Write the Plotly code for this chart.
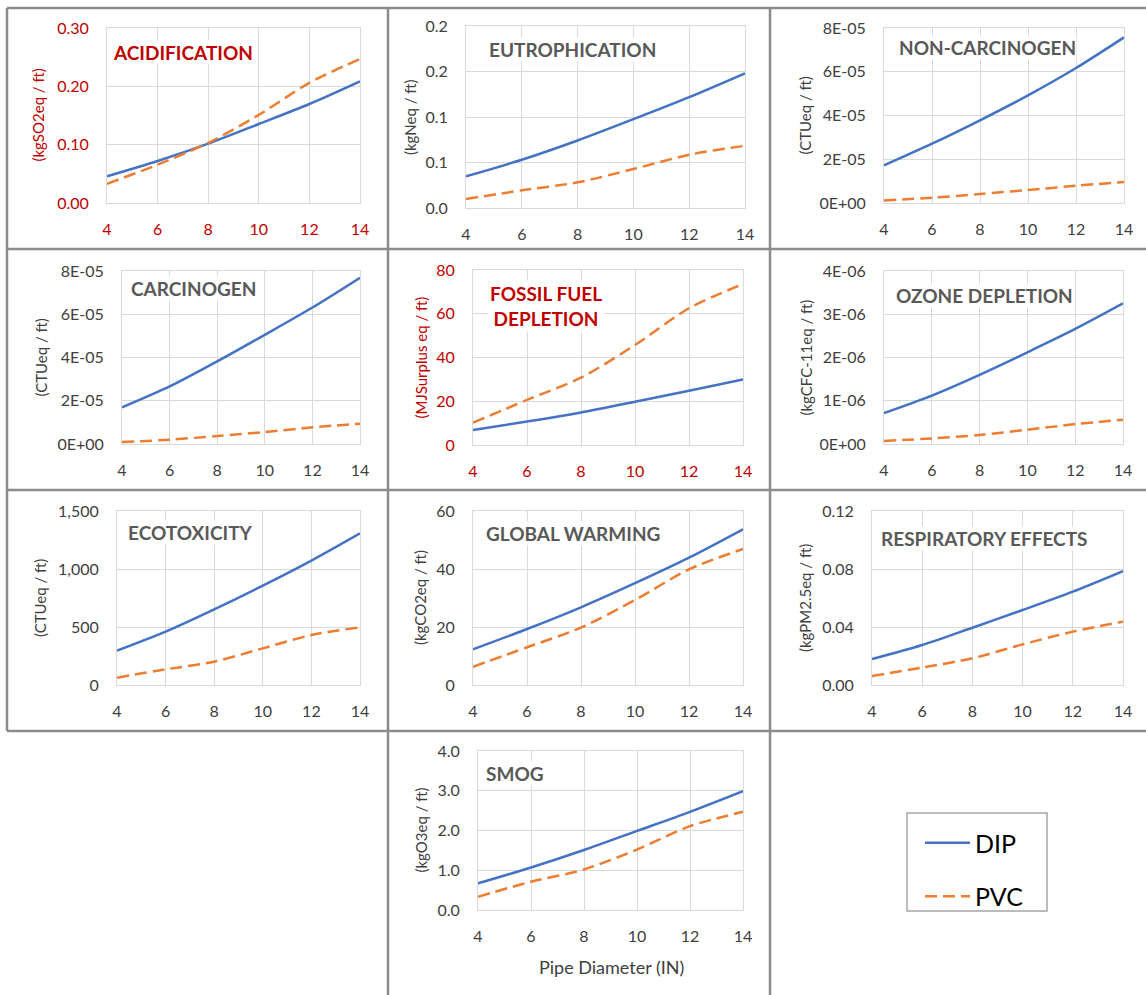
import plotly.graph_objects as go

# ---------------- data ----------------
diameters = [4, 6, 8, 10, 12, 14]
x_ticks = [4, 6, 8, 10, 12, 14]
x_ticktext = ["4", "6", "8", "10", "12", "14"]

acid_dip = [0.0457, 0.072, 0.1017, 0.1354, 0.1697, 0.2086]
acid_pvc = [0.033, 0.0657, 0.103, 0.151, 0.206, 0.247]
acid_ticks = [0, 0.1, 0.2, 0.3]
acid_ticktext = ["0.00", "0.10", "0.20", "0.30"]

eutro_dip = [0.0347, 0.053, 0.0742, 0.0976, 0.1218, 0.148]
eutro_pvc = [0.0099, 0.0194, 0.0282, 0.0428, 0.0585, 0.0684]
eutro_ticks = [0, 0.05, 0.1, 0.15, 0.2]
eutro_ticktext = ["0.0", "0.1", "0.1", "0.2", "0.2"]

noncarc_dip = [1.72e-5, 2.71e-5, 3.78e-5, 4.92e-5, 6.17e-5, 7.57e-5]
noncarc_pvc = [1.2e-6, 2.4e-6, 4.1e-6, 5.9e-6, 7.9e-6, 9.6e-6]
noncarc_ticks = [0, 2e-5, 4e-5, 6e-5, 8e-5]
noncarc_ticktext = ["0E+00", "2E-05", "4E-05", "6E-05", "8E-05"]

carc_dip = [1.69e-5, 2.66e-5, 3.82e-5, 5.05e-5, 6.31e-5, 7.69e-5]
carc_pvc = [0.9e-6, 2.0e-6, 3.7e-6, 5.5e-6, 7.7e-6, 9.4e-6]
carc_ticks = [0, 2e-5, 4e-5, 6e-5, 8e-5]
carc_ticktext = ["0E+00", "2E-05", "4E-05", "6E-05", "8E-05"]

fossil_dip = [6.9, 10.7, 14.9, 19.8, 24.8, 30.0]
fossil_pvc = [10.2, 20.6, 30.8, 45.7, 62.5, 73.6]
fossil_ticks = [0, 20, 40, 60, 80]
fossil_ticktext = ["0", "20", "40", "60", "80"]

ozone_dip = [0.715e-6, 1.12e-6, 1.6e-6, 2.12e-6, 2.66e-6, 3.25e-6]
ozone_pvc = [0.07e-6, 0.13e-6, 0.21e-6, 0.33e-6, 0.46e-6, 0.56e-6]
ozone_ticks = [0, 1e-6, 2e-6, 3e-6, 4e-6]
ozone_ticktext = ["0E+00", "1E-06", "2E-06", "3E-06", "4E-06"]

ecotox_dip = [296, 460, 652, 856, 1072, 1307]
ecotox_pvc = [63, 135, 201, 316, 431, 497]
ecotox_ticks = [0, 500, 1000, 1500]
ecotox_ticktext = ["0", "500", "1,000", "1,500"]

gw_dip = [12.3, 19.3, 26.8, 35.1, 43.9, 53.7]
gw_pvc = [6.3, 13.0, 19.8, 29.3, 39.9, 46.9]
gw_ticks = [0, 20, 40, 60]
gw_ticktext = ["0", "20", "40", "60"]

resp_dip = [0.0179, 0.0276, 0.0395, 0.0517, 0.0644, 0.0786]
resp_pvc = [0.0062, 0.012, 0.0184, 0.028, 0.0368, 0.0437]
resp_ticks = [0, 0.04, 0.08, 0.12]
resp_ticktext = ["0.00", "0.04", "0.08", "0.12"]

smog_dip = [0.67, 1.07, 1.51, 1.99, 2.47, 2.99]
smog_pvc = [0.335, 0.71, 1.02, 1.52, 2.11, 2.47]
smog_ticks = [0, 1, 2, 3, 4]
smog_ticktext = ["0.0", "1.0", "2.0", "3.0", "4.0"]

titles = ["ACIDIFICATION", "EUTROPHICATION", "NON-CARCINOGEN", "CARCINOGEN",
          "FOSSIL FUEL<br>DEPLETION", "OZONE DEPLETION", "ECOTOXICITY",
          "GLOBAL WARMING", "RESPIRATORY EFFECTS", "SMOG"]
units = ["(kgSO2eq / ft)", "(kgNeq / ft)", "(CTUeq / ft)", "(CTUeq / ft)",
         "(MJSurplus eq / ft)", "(kgCFC-11eq / ft)", "(CTUeq / ft)",
         "(kgCO2eq / ft)", "(kgPM2.5eq / ft)", "(kgO3eq / ft)"]
series_names = ["DIP", "PVC"]
x_title = "Pipe Diameter (IN)"

# ---------------- layout geometry (pixels) ----------------
W, H = 1146, 995
FONT = "Lato"
DARK = "#404040"
RED = "#C00000"
GREY_TITLE = "#595959"
BLUE = "#4472C4"
ORANGE = "#ED7D31"

def fx(p):
    return p / W

def fy(p):
    return 1 - p / H

panels = [
    dict(box=(107, 360, 28, 203), t=(112, 53), u=38, red=True,
         dip=acid_dip, pvc=acid_pvc, tv=acid_ticks, tt=acid_ticktext),
    dict(box=(466, 745, 26, 208), t=(488, 50), u=410, red=False,
         dip=eutro_dip, pvc=eutro_pvc, tv=eutro_ticks, tt=eutro_ticktext),
    dict(box=(884, 1124, 28, 203), t=(898, 48), u=805, red=False,
         dip=noncarc_dip, pvc=noncarc_pvc, tv=noncarc_ticks, tt=noncarc_ticktext),
    dict(box=(122, 360, 271, 444), t=(130, 288), u=40, red=False,
         dip=carc_dip, pvc=carc_pvc, tv=carc_ticks, tt=carc_ticktext),
    dict(box=(473, 743, 270, 445), t=(546, 306), u=420, red=True, center=True,
         dip=fossil_dip, pvc=fossil_pvc, tv=fossil_ticks, tt=fossil_ticktext),
    dict(box=(884, 1123, 271, 444), t=(895, 295), u=805, red=False,
         dip=ozone_dip, pvc=ozone_pvc, tv=ozone_ticks, tt=ozone_ticktext),
    dict(box=(117, 360, 511, 685), t=(127, 532), u=40, red=False,
         dip=ecotox_dip, pvc=ecotox_pvc, tv=ecotox_ticks, tt=ecotox_ticktext),
    dict(box=(473, 743, 511, 685), t=(485, 533), u=420, red=False,
         dip=gw_dip, pvc=gw_pvc, tv=gw_ticks, tt=gw_ticktext),
    dict(box=(872, 1123, 511, 685), t=(880, 538), u=805, red=False,
         dip=resp_dip, pvc=resp_pvc, tv=resp_ticks, tt=resp_ticktext),
    dict(box=(478, 743, 751, 910), t=(485, 773), u=420, red=False,
         dip=smog_dip, pvc=smog_pvc, tv=smog_ticks, tt=smog_ticktext),
]

fig = go.Figure()
annotations = []
layout_axes = {}

for i, p in enumerate(panels):
    k = "" if i == 0 else str(i + 1)
    x0, x1, y0, y1 = p["box"]
    tick_col = RED if p["red"] else DARK
    xa = dict(domain=[fx(x0), fx(x1)], anchor="y" + k, range=[4, 14],
              tickvals=x_ticks, ticktext=x_ticktext, showgrid=True,
              gridcolor="#D9D9D9", gridwidth=1, showline=True, mirror=True,
              linecolor="#D9D9D9", linewidth=1, ticks="", zeroline=False,
              ticklabelstandoff=12, fixedrange=True, automargin=False,
              tickfont=dict(family=FONT, size=16, color=tick_col))
    ya = dict(domain=[fy(y1), fy(y0)], anchor="x" + k,
              range=[p["tv"][0], p["tv"][-1]], tickvals=p["tv"], ticktext=p["tt"],
              showgrid=True, gridcolor="#D9D9D9", gridwidth=1, showline=True,
              mirror=True, linecolor="#D9D9D9", linewidth=1, ticks="",
              zeroline=False, ticklabelstandoff=14, fixedrange=True, automargin=False,
              tickfont=dict(family=FONT, size=16, color=tick_col))
    layout_axes["xaxis" + k] = xa
    layout_axes["yaxis" + k] = ya

    fig.add_trace(go.Scatter(x=diameters, y=p["dip"], mode="lines",
                             name=series_names[0], legendgroup="dip",
                             showlegend=(i == 0), xaxis="x" + k, yaxis="y" + k,
                             hoverinfo="skip",
                             line=dict(color=BLUE, width=2.5, shape="spline",
                                       smoothing=0.8)))
    fig.add_trace(go.Scatter(x=diameters, y=p["pvc"], mode="lines",
                             name=series_names[1], legendgroup="pvc",
                             showlegend=(i == 0), xaxis="x" + k, yaxis="y" + k,
                             hoverinfo="skip",
                             line=dict(color=ORANGE, width=2.5, shape="spline",
                                       smoothing=0.8, dash="12px,6px")))

    tcol = RED if p["red"] else GREY_TITLE
    if p.get("center"):
        annotations.append(dict(x=fx(p["t"][0]), y=fy(p["t"][1]), xref="paper",
                                yref="paper", xanchor="center", yanchor="middle",
                                text="<b>" + titles[i] + "</b>", showarrow=False,
                                align="center", bgcolor="white",
                                font=dict(family=FONT, size=19, color=tcol)))
    else:
        annotations.append(dict(x=fx(p["t"][0]), y=fy(p["t"][1]), xref="paper",
                                yref="paper", xanchor="left", yanchor="middle",
                                text="<b>" + titles[i] + "</b>", showarrow=False,
                                bgcolor="white", borderpad=0,
                                font=dict(family=FONT, size=19, color=tcol)))
    annotations.append(dict(x=fx(p["u"]), y=fy((y0 + y1) / 2), xref="paper",
                            yref="paper", xanchor="center", yanchor="middle",
                            text=units[i], textangle=-90, showarrow=False,
                            font=dict(family=FONT, size=15,
                                      color=RED if p["red"] else DARK)))

annotations.append(dict(x=fx(611), y=fy(967), xref="paper", yref="paper",
                        xanchor="center", yanchor="middle", text=x_title,
                        showarrow=False, font=dict(family=FONT, size=18, color=DARK)))

# cell borders
BC = "#8C8C8C"
shapes = []
def line(xa_, ya_, xb_, yb_):
    shapes.append(dict(type="line", xref="paper", yref="paper",
                       x0=fx(xa_), y0=fy(ya_), x1=fx(xb_), y1=fy(yb_),
                       line=dict(color=BC, width=2.5)))

line(7, 8, W, 8)
line(7, 249, W, 249)
line(7, 490, W, 490)
line(7, 731, W, 731)
line(7, 8, 7, 731)
line(388, 8, 388, H)
line(770, 8, 770, H)
# legend frame
shapes.append(dict(type="rect", xref="paper", yref="paper",
                   x0=fx(907), x1=fx(1047), y0=fy(911), y1=fy(813),
                   line=dict(color="#A6A6A6", width=1.5), fillcolor="rgba(0,0,0,0)"))

fig.update_layout(
    width=W, height=H, autosize=False,
    margin=dict(l=0, r=0, t=0, b=0, pad=0, autoexpand=False),
    paper_bgcolor="white", plot_bgcolor="white",
    showlegend=True, hovermode=False,
    legend=dict(x=fx(920), y=fy(820), xanchor="left", yanchor="top",
                bgcolor="rgba(0,0,0,0)", borderwidth=0, tracegroupgap=18,
                itemwidth=45,
                font=dict(family=FONT, size=25, color="black")),
    annotations=annotations, shapes=shapes,
    **layout_axes,
)

fig.write_html("out.html", config={"displayModeBar": False, "staticPlot": True},
               post_script="document.body.style.margin='0px';document.body.style.overflow='hidden';")
